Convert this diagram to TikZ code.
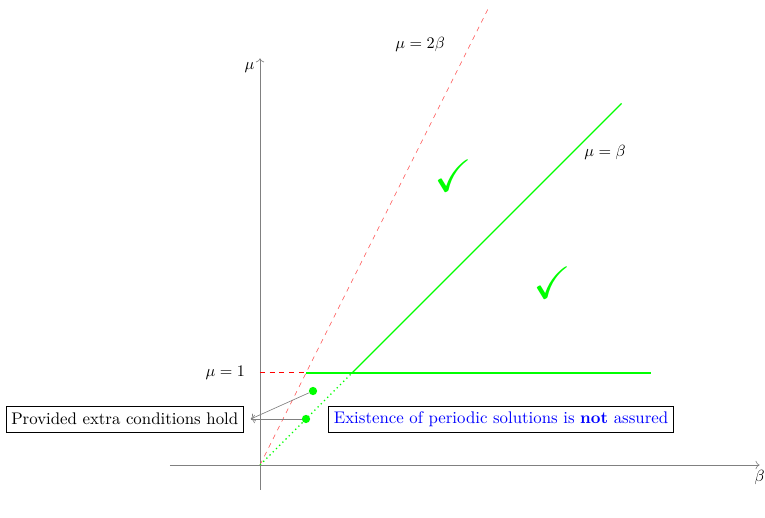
\documentclass[tikz,border=0pt]{standalone}
\usepackage{amsmath,amssymb}
\usepackage{tikz}
\usetikzlibrary{arrows.meta,positioning}

\begin{document}
\begin{tikzpicture}[x=2cm, y=2cm,
  every node/.style={font=\fontsize{10.4}{12.5}\selectfont},
  axis/.style={->, gray},
  region/.style={green, thick},
  bound/.style={red!70, dashed},
  dot/.style={circle, fill=green, inner sep=0pt, minimum size=1.8mm},
  okmark/.style={text=green, scale=2.7},
  infobox/.style={draw, fill=white, align=center, minimum height=5.6mm},
  pointer/.style={->, gray}
]
\useasboundingbox (-2.826,-0.576) rectangle (5.489,5.054);

% Axes
\coordinate (o) at (0,0);
\draw[axis] (-0.98,0) -- (5.43,0) node[below, black] (blab) {$\beta$};
\draw[axis] (0,-0.27) -- (0,4.42) coordinate (mtop);
\node[left=0mm of mtop, yshift=-2mm] (mlab) {$\mu$};

% Key points
\coordinate (one) at (0,1);
\coordinate (half) at (0.5,1);
\coordinate (corner) at (1,1);

% Red dashed bounds: mu = 2 beta and mu = 1 up to it
\draw[bound] (o) -- (2.475,4.95);
\draw[red, dashed, semithick] (one) -- (half);
\node (lab2b) at (1.74,4.57) {$\mu=2\beta$};
\node[left=2mm of one] (lab1) {$\mu=1$};

% Green region boundary
\draw[region] (half) -- (4.25,1);
\draw[region] (corner) -- (3.93,3.93);
\draw[green, thick, dotted] (o) -- (corner);
\node (labb) at (3.75,3.40) {$\mu=\beta$};

% Check marks
\node[okmark] (ok1) at (2.1,3.14) {$\checkmark$};
\node[okmark] (ok2) at (3.18,1.98) {$\checkmark$};

% Points below mu = 1
\node[dot] (p1) at (0.576,0.804) {};
\node[dot] (p2) at (0.5,0.5) {};

% Boxes
\node[infobox] (extra) at (-1.47,0.5) {Provided extra conditions hold};
\node[infobox, text=blue] (exist) at (2.62,0.5) {Existence of periodic solutions is \textbf{not} assured};
\coordinate (tip) at (-0.1,0.5);

\draw[pointer] (p1) -- (tip);
\draw[pointer] (p2) -- (tip);
\end{tikzpicture}
\end{document}
